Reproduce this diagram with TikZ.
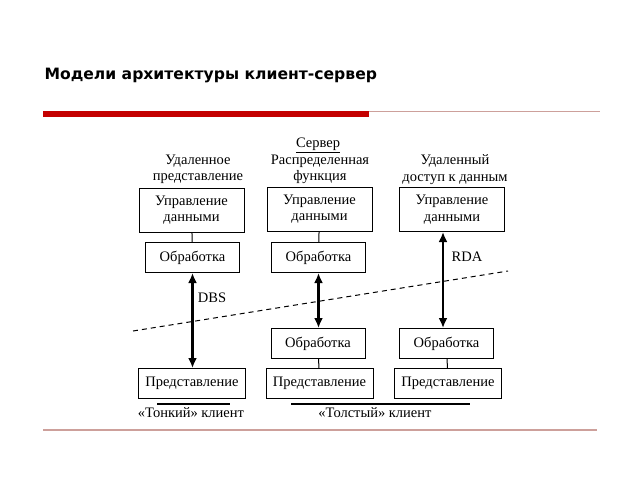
\documentclass[tikz,border=0pt]{standalone}
\usepackage{fontspec}
\setmainfont{Liberation Serif}
\newfontfamily\titlefont{DejaVu Sans}
\usetikzlibrary{arrows.meta}
\definecolor{barred}{RGB}{196,0,0}
\definecolor{rulered}{RGB}{205,160,155}

\begin{document}
\begin{tikzpicture}[x=1pt,y=-1pt,
  font=\fontsize{14.5}{16.5}\selectfont,
  blok/.style={draw, line width=1pt, align=center, inner sep=0pt},
  upr/.style={blok, minimum width=105pt, minimum height=44pt},
  obr/.style={blok, minimum width=94pt, minimum height=30pt},
  pred/.style={blok, minimum width=107pt, minimum height=30pt},
  svyaz/.style={line width=2.6pt, {Latex[length=10pt,width=9pt]}-{Latex[length=10pt,width=9pt]}}]
\useasboundingbox (0,0) rectangle (640,480);
% slide title and rules
\node[anchor=west, font=\titlefont\bfseries\fontsize{15.6}{18}\selectfont] (title) at (41,75){Модели архитектуры клиент-сервер};
\fill[barred] (43,111) rectangle (369,117);
\draw[rulered, line width=0.8pt] (369,111) -- (600,111);
\draw[rulered, line width=2pt] (43,430) -- (597,430);
% headings
\node (server) at (318,145){\underline{Сервер}};
\node[align=center] (h1) at (198,169.5){Удаленное\\представление};
\node[align=center] (h2) at (320,169.5){Распределенная\\функция};
\node[align=center] (h3) at (455,169.5){Удаленный\\доступ к данным};
% server side
\node[upr] (u1) at (191.5,210){Управление\\данными};
\node[upr] (u2) at (319.5,209){Управление\\данными};
\node[upr] (u3) at (452,209.5){Управление\\данными};
\node[obr] (o1) at (192.5,257.5){Обработка};
\node[obr] (o2) at (318.5,257.5){Обработка};
% client side
\node[obr] (o3) at (318,343.5){Обработка};
\node[obr] (o4) at (446.5,343.5){Обработка};
\node[pred] (p1) at (192,383.5){Представление};
\node[pred] (p2) at (319.5,383.5){Представление};
\node[pred] (p3) at (448,383.5){Представление};
\draw[line width=1pt] (u1) -- (o1);
\draw[line width=1pt] (u2) -- (o2);
\draw[line width=1pt] (o3) -- (p2);
\draw[line width=1pt] (o4) -- (p3);
% exchange
\draw[svyaz] (o1.south) -- (o1.south |- p1.north);
\draw[svyaz] (o2.south) -- (o2.south |- o3.north);
\draw[svyaz] (o4.north -| 443,0) -- (443,0 |- u3.south);
\node (dbs) at (212,298){DBS};
\node (rda) at (467,257){RDA};
% boundary
\coordinate (g1) at (133,331);
\coordinate (g2) at (508,271);
\draw[line width=1pt, dash pattern=on 5pt off 4pt] (g1) -- (g2);
% clients
\coordinate (t1) at (157,404);
\coordinate (t2) at (230,404);
\coordinate (f1) at (291,404);
\coordinate (f2) at (470,404);
\draw[line width=1.2pt] (t1) -- (t2);
\draw[line width=1.2pt] (f1) -- (f2);
\node (thin) at (191,413){«Тонкий» клиент};
\node (fat) at (375,413){«Толстый» клиент};
\end{tikzpicture}
\end{document}
